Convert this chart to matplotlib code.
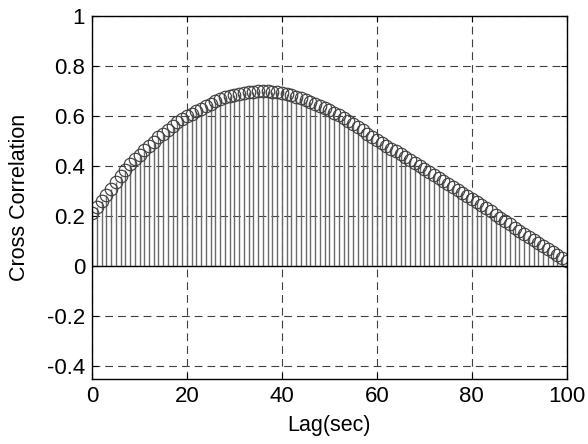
import numpy as np
import matplotlib
matplotlib.use("Agg")
import matplotlib.pyplot as plt

plt.rcParams['font.family'] = ['Liberation Sans', 'DejaVu Sans']

# lag axis and cross-correlation values
lags = list(range(0, 101))
xcorr = [0.215, 0.238, 0.262, 0.286, 0.310, 0.335, 0.360, 0.385, 0.408, 0.427,
         0.445, 0.463, 0.480, 0.498, 0.515, 0.530, 0.545, 0.560, 0.575, 0.588,
         0.600, 0.610, 0.620, 0.630, 0.640, 0.650, 0.660, 0.668, 0.675, 0.680,
         0.685, 0.689, 0.693, 0.696, 0.698, 0.699, 0.700, 0.699, 0.698, 0.696,
         0.693, 0.689, 0.684, 0.678, 0.672, 0.665, 0.657, 0.649, 0.640, 0.632,
         0.623, 0.613, 0.603, 0.592, 0.580, 0.568, 0.555, 0.543, 0.530, 0.518,
         0.505, 0.493, 0.481, 0.470, 0.459, 0.448, 0.437, 0.425, 0.413, 0.400,
         0.388, 0.376, 0.364, 0.352, 0.340, 0.328, 0.316, 0.305, 0.293, 0.282,
         0.270, 0.258, 0.245, 0.232, 0.220, 0.207, 0.195, 0.181, 0.168, 0.155,
         0.143, 0.130, 0.118, 0.106, 0.094, 0.082, 0.070, 0.058, 0.046, 0.034,
         0.022]

xticks = [0, 20, 40, 60, 80, 100]
yticks = [-0.4, -0.2, 0, 0.2, 0.4, 0.6, 0.8, 1]
ytick_labels = ["-0.4", "-0.2", "0", "0.2", "0.4", "0.6", "0.8", "1"]

fig = plt.figure(figsize=(5.88, 4.44), dpi=100)
ax = fig.add_axes([0.1565, 0.1464, 0.8075, 0.8176])

ax.grid(True, color='#404040', linestyle=(0, (7, 4.5)), linewidth=0.8)
ax.set_axisbelow(True)

markers, stems, base = ax.stem(lags, xcorr, basefmt='k-')
plt.setp(stems, color='#6a6a6a', linewidth=1.0)
plt.setp(markers, marker='o', markersize=9, markerfacecolor='none',
         markeredgecolor='#404040', markeredgewidth=0.85)
plt.setp(base, color='black', linewidth=1.0)
base.set_xdata([0, 100])

ax.set_xlim(0, 100)
ax.set_ylim(-0.45, 1)
ax.set_xticks(xticks)
ax.set_yticks(yticks)
ax.set_yticklabels(ytick_labels)
ax.tick_params(direction='in', length=4, width=0.8, labelsize=16, pad=5,
               top=True, right=True)
for s in ax.spines.values():
    s.set_linewidth(1.0)
    s.set_color('black')

ax.set_xlabel("Lag(sec)", fontsize=15.5, labelpad=6)
ax.set_ylabel("Cross Correlation", fontsize=15.5, labelpad=12)

fig.savefig("out.png", dpi=100)
